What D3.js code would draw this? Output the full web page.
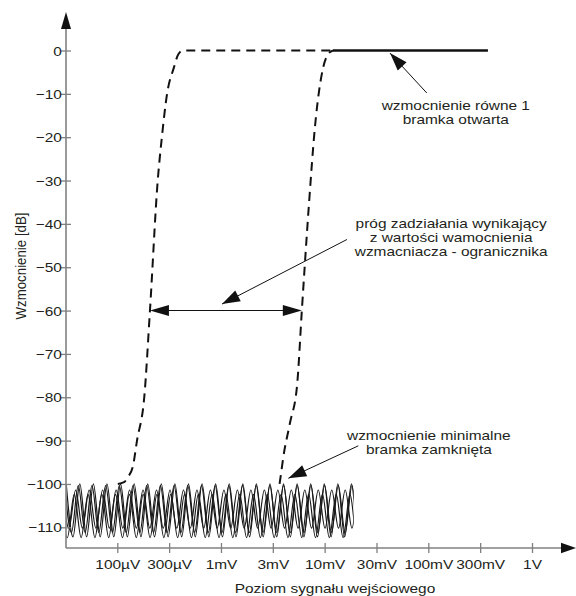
<!DOCTYPE html>
<html>
<head>
<meta charset="utf-8">
<script src="https://cdn.jsdelivr.net/npm/d3@7"></script>
<style>
	body { margin: 0; background: #fff; }
	text { font-family: "Liberation Sans", Arial, sans-serif; font-size: 13.3px; fill: #231f20; }
</style>
</head>
<body>
<svg id="chart" width="576" height="596"></svg>
<script>
// x positions are step indexes: 0 = 100µV, 1 = 300µV, ... 8 = 1V
var xTickLabels = ["100µV", "300µV", "1mV", "3mV", "10mV", "30mV", "100mV", "300mV", "1V"];
var yTicks = [0, -10, -20, -30, -40, -50, -60, -70, -80, -90, -100, -110];

// gate threshold curves (dashed)
var lowCurve = [[0.01, -100], [0.13, -99.6], [0.21, -98.3], [0.30, -96], [0.38, -90], [0.52, -80],
	[0.63, -60], [0.78, -30], [0.86, -20], [0.96, -10], [1.09, -4], [1.18, -0.8], [1.27, 0], [4.16, 0]];
var highCurve = [[3.13, -100], [3.16, -97.5], [3.2, -94], [3.33, -86], [3.47, -77], [3.56, -60],
	[3.7, -35], [3.81, -18], [3.97, -4], [4.07, -0.8], [4.16, 0]];
// unity gain, gate open (solid)
var openGain = [[4.16, 0], [7.15, 0]];
// threshold span
var spanArrow = [[0.63, -60], [3.56, -60]];

// closed gate noise band: one entry per wave
var noiseTop = [-100, -100.4, -101.4, -102.4];
var noiseBottom = [-112.2, -111.2, -110.2, -112.4];
var noisePhase = [0, 0.12, 0.3, 0.42];
var noisePeriod = [0.262, 0.264, 0.26, 0.266];
var noiseRange = [-0.985, 4.56];

// annotations: text lines, anchor (step, dB of first baseline)
var noteLines = [
	["wzmocnienie równe 1", "bramka otwarta"],
	["próg zadziałania wynikający", "z wartości wamocnienia", "wzmacniacza - ogranicznika"],
	["wzmocnienie minimalne", "bramka zamknięta"]
];
var noteAt = [[6.53, -13.7], [6.44, -41], [6.01, -89.9]];
var pointerFrom = [[5.97, -9.8], [4.43, -43.6], [4.65, -91.2]];
var pointerTo = [[5.26, -0.6], [2.02, -58.5], [3.3, -98.7]];

var stretch = 1.16,
	lineGap = 13.7;

var svg = d3.select("#chart");

var xScale = d3.scaleLinear().domain([0, 8]).range([117.3, 532]),
	yScale = d3.scaleLinear().domain([0, -110]).range([50.5, 527.3]);

var originX = 66,
	originY = 548;

function arrowHead(g, from, to, len, half) {
	var dx = to[0] - from[0], dy = to[1] - from[1];
	var d = Math.sqrt(dx * dx + dy * dy);
	var ux = dx / d, uy = dy / d;
	var bx = to[0] - ux * len, by = to[1] - uy * len;
	g.append("path")
		.attr("d", "M" + to[0] + "," + to[1] +
			"L" + (bx - uy * half) + "," + (by + ux * half) +
			"L" + (bx + uy * half) + "," + (by - ux * half) + "Z")
		.attr("fill", "#111");
}

// noise band
svg.append("clipPath").attr("id", "noiseclip")
	.append("rect")
	.attr("x", xScale(noiseRange[0]))
	.attr("y", 0)
	.attr("width", xScale(noiseRange[1]) - xScale(noiseRange[0]))
	.attr("height", 596);

var noiseLine = d3.line()
	.x(d => xScale(d[0]))
	.y(d => yScale(d[1]))
	.curve(d3.curveMonotoneX);

var noiseG = svg.append("g").attr("clip-path", "url(#noiseclip)");
noisePeriod.forEach(function(p, w) {
	var pts = [];
	var half = p / 2;
	var x0 = noiseRange[0] - noisePhase[w] * p;
	for (var k = 0; x0 + k * half <= noiseRange[1] + p; k++) {
		pts.push([x0 + k * half, k % 2 ? noiseBottom[w] : noiseTop[w]]);
	}
	noiseG.append("path")
		.attr("d", noiseLine(pts))
		.attr("fill", "none")
		.attr("stroke", "#1a1a1a")
		.attr("stroke-width", 1.2);
});

// axes
var yAxis = d3.axisLeft(yScale).tickValues(yTicks).tickSizeInner(5).tickSizeOuter(0);
var yG = svg.append("g").attr("transform", "translate(" + originX + ",0)").call(yAxis);
yG.select(".domain").remove();
yG.selectAll(".tick line").attr("x1", 5).attr("stroke", "#808080").attr("stroke-width", 1.3);
yG.selectAll(".tick text")
	.attr("x", null).attr("dy", null)
	.attr("font-size", null).attr("font-family", null)
	.attr("transform", "translate(-4.2,4.6) scale(" + stretch + ",1)");
yG.attr("font-size", null).attr("font-family", null);

var xAxis = d3.axisBottom(xScale).tickValues(d3.range(xTickLabels.length))
	.tickFormat(i => xTickLabels[i]).tickSizeInner(5).tickSizeOuter(0);
var xG = svg.append("g").attr("transform", "translate(0," + originY + ")").call(xAxis);
xG.select(".domain").remove();
xG.selectAll(".tick line").attr("y1", -5).attr("stroke", "#808080").attr("stroke-width", 1.3);
xG.selectAll(".tick text")
	.attr("y", null).attr("dy", null)
	.attr("font-size", null).attr("font-family", null)
	.attr("transform", "translate(0,21) scale(" + stretch + ",1)");
xG.attr("font-size", null).attr("font-family", null);

var axisG = svg.append("g");
axisG.append("line")
	.attr("x1", originX).attr("y1", originY).attr("x2", originX).attr("y2", 26)
	.attr("stroke", "#808080").attr("stroke-width", 1.6);
axisG.append("line")
	.attr("x1", originX).attr("y1", originY).attr("x2", 562).attr("y2", originY)
	.attr("stroke", "#808080").attr("stroke-width", 1.6);
arrowHead(axisG, [originX, originY], [originX, 12], 17, 5);
arrowHead(axisG, [originX, originY], [576, originY], 15, 5.3);

svg.append("text")
	.attr("text-anchor", "middle")
	.attr("transform", "translate(335,593) scale(" + stretch + ",1)")
	.text("Poziom sygnału wejściowego");

svg.append("text")
	.attr("text-anchor", "middle")
	.attr("transform", "translate(26,266) rotate(-90) scale(1," + stretch + ")")
	.text("Wzmocnienie [dB]");

// curves
var line = d3.line()
	.x(d => xScale(d[0]))
	.y(d => yScale(d[1]))
	.curve(d3.curveMonotoneX);

[lowCurve, highCurve].forEach(function(c) {
	svg.append("path")
		.attr("d", line(c))
		.attr("fill", "none")
		.attr("stroke", "#111")
		.attr("stroke-width", 2)
		.attr("stroke-dasharray", "9,6");
});

svg.append("path")
	.attr("d", line(openGain))
	.attr("fill", "none")
	.attr("stroke", "#111")
	.attr("stroke-width", 2.4);

// threshold span arrow
var spanPx = spanArrow.map(d => [xScale(d[0]), yScale(d[1])]);
var spanG = svg.append("g");
spanG.append("line")
	.attr("x1", spanPx[0][0] + 10).attr("y1", spanPx[0][1])
	.attr("x2", spanPx[1][0] - 10).attr("y2", spanPx[1][1])
	.attr("stroke", "#111").attr("stroke-width", 1.1);
arrowHead(spanG, spanPx[1], spanPx[0], 19, 5.5);
arrowHead(spanG, spanPx[0], spanPx[1], 19, 5.5);

// pointers and notes
var noteG = svg.append("g");
pointerFrom.forEach(function(f, i) {
	var a = [xScale(f[0]), yScale(f[1])],
		b = [xScale(pointerTo[i][0]), yScale(pointerTo[i][1])];
	noteG.append("line")
		.attr("x1", a[0]).attr("y1", a[1])
		.attr("x2", b[0]).attr("y2", b[1])
		.attr("stroke", "#111").attr("stroke-width", 1);
	arrowHead(noteG, a, b, 18, 6);
});

noteLines.forEach(function(lines, i) {
	var x = xScale(noteAt[i][0]),
		y = yScale(noteAt[i][1]);
	lines.forEach(function(t, j) {
		noteG.append("text")
			.attr("text-anchor", "middle")
			.attr("transform", "translate(" + x + "," + (y + j * lineGap) + ") scale(" + stretch + ",1)")
			.text(t);
	});
});
</script>
</body>
</html>
